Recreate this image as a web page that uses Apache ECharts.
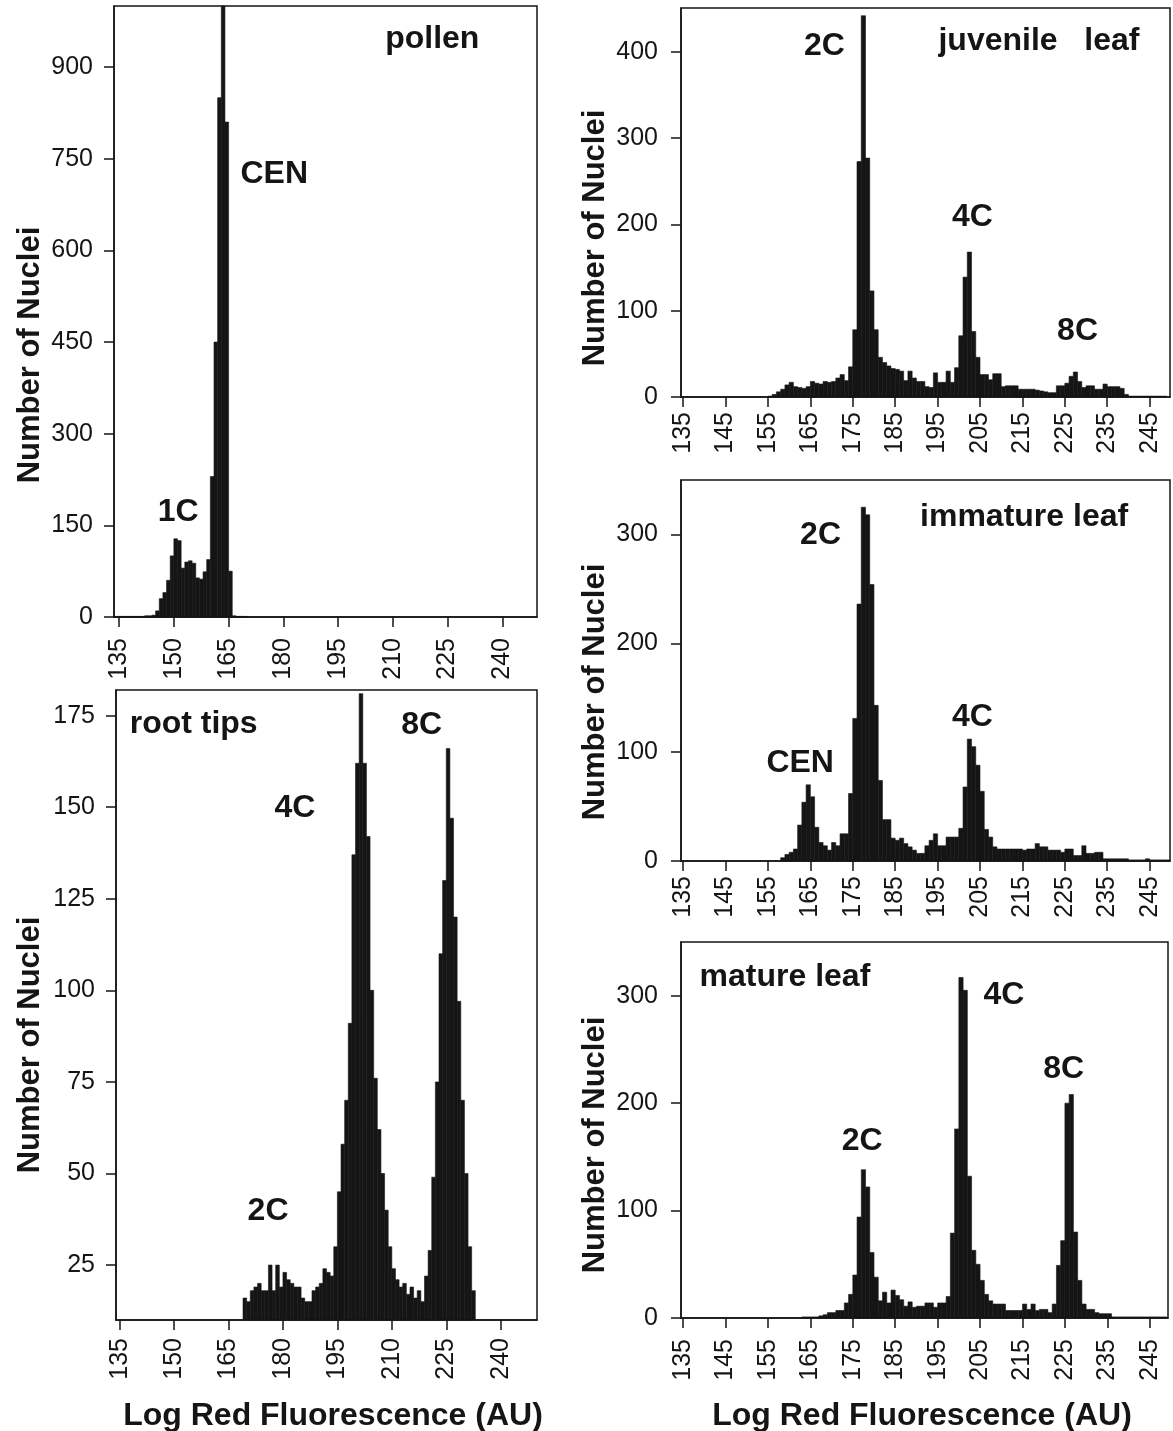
<!DOCTYPE html>
<html><head><meta charset="utf-8">
<script src="https://cdn.jsdelivr.net/npm/echarts@6/dist/echarts.min.js"></script>
<style>html,body{margin:0;padding:0;background:#fff}#c{width:1173px;height:1431px}</style>
</head><body><div id="c"></div><script>
// ---------- DATA ----------
// histogram bin starts (Log Red Fluorescence, AU); each bin is one unit wide
const BIN_WIDTH = 1;
const bins = [
  134,135,136,137,138,139,140,141,142,143,
  144,145,146,147,148,149,150,151,152,153,
  154,155,156,157,158,159,160,161,162,163,
  164,165,166,167,168,169,170,171,172,173,
  174,175,176,177,178,179,180,181,182,183,
  184,185,186,187,188,189,190,191,192,193,
  194,195,196,197,198,199,200,201,202,203,
  204,205,206,207,208,209,210,211,212,213,
  214,215,216,217,218,219,220,221,222,223,
  224,225,226,227,228,229,230,231,232,233,
  234,235,236,237,238,239,240,241,242,243,
  244,245,246,247,248,249
];
// Number of nuclei per bin
const pollenCounts = [
  1,1,1,1,1,1,1,1,2,2,
  3,10,30,40,60,100,128,125,80,90,
  92,88,64,62,74,94,230,450,850,1000,
  810,75,2,1,1,1,0,0,0,0,
  0,0,0,0,0,0,0,0,0,0,
  0,0,0,0,0,0,0,0,0,0,
  0,0,0,0,0,0,0,0,0,0,
  0,0,0,0,0,0,0,0,0,0,
  0,0,0,0,0,0,0,0,0,0,
  0,0,0,0,0,0,0,0,0,0,
  0,0,0,0,0,0,0,0,0,0,
  0,0,0,0,0,0
];
const rootCounts = [
  0,0,0,0,0,0,0,0,0,0,
  0,0,0,0,0,0,0,0,0,0,
  0,0,0,0,0,0,0,0,0,0,
  0,0,0,0,0,16,15,18,19,20,
  18,18,25,18,25,19,23,21,20,19,
  19,16,15,15,18,19,20,24,23,22,
  30,45,58,70,91,137,162,181,162,142,
  100,76,62,50,40,30,24,21,19,20,
  17,19,16,18,15,22,29,49,75,110,
  130,166,147,120,97,70,50,30,18,0,
  0,0,0,0,0,0,0,0,0,0,
  0,0,0,0,0,0
];
const juvenileCounts = [
  0,0,0,0,0,0,0,0,0,0,
  0,0,0,0,0,0,0,0,0,0,
  0,1,3,6,9,14,17,12,11,10,
  12,18,16,15,18,17,18,22,26,19,
  35,78,273,442,277,123,78,46,40,36,
  33,32,30,19,30,22,18,18,12,11,
  28,17,17,30,17,34,71,139,168,76,
  46,26,26,20,27,27,12,13,13,13,
  9,9,9,9,8,7,6,5,5,13,
  13,16,24,29,18,11,13,13,9,9,
  15,12,12,12,10,3,1,1,1,1,
  1,1,1,1,1,0
];
const immatureCounts = [
  0,0,0,0,0,0,0,0,0,0,
  0,0,0,0,0,0,0,0,0,0,
  0,0,0,0,3,6,8,11,33,54,
  70,59,31,17,14,10,17,14,25,25,
  62,131,236,325,318,254,143,74,38,38,
  21,19,21,16,13,10,7,7,14,19,
  25,14,14,22,22,22,30,68,112,105,
  88,64,29,22,13,11,11,11,11,11,
  11,10,11,11,16,13,13,10,10,10,
  8,11,11,5,5,14,7,7,8,8,
  2,2,2,2,2,2,1,1,1,1,
  2,1,1,1,1,1
];
const matureCounts = [
  0,0,0,0,0,0,0,0,0,0,
  0,0,0,0,0,0,0,0,0,0,
  0,0,0,0,0,0,0,0,0,1,
  1,1,1,2,3,5,5,7,7,14,
  22,40,94,138,122,61,38,16,24,14,
  26,21,17,11,15,10,11,11,14,14,
  10,14,14,20,79,176,317,305,132,63,
  50,35,22,16,13,13,13,7,7,7,
  7,13,8,13,7,8,8,5,13,49,
  72,200,208,80,35,13,8,8,5,4,
  4,4,1,1,1,1,1,1,1,1,
  1,1,1,1,1,0
];
// tick labels
const leftXTicks = [135,150,165,180,195,210,225,240];
const rightXTicks = [135,145,155,165,175,185,195,205,215,225,235,245];
const pollenYTicks = [0,150,300,450,600,750,900];
const rootYTicks = [25,50,75,100,125,150,175];
const juvenileYTicks = [0,100,200,300,400];
const leafYTicks = [0,100,200,300];
// panel annotations [x (AU), y (nuclei), text]
const pollenNotes = [[220.8,946,'pollen'],[177.5,724,'CEN'],[151.2,171,'1C']];
const rootNotes = [[155.4,172.8,'root tips'],[183.3,149.7,'4C'],[218.2,172.4,'8C'],[175.9,39.6,'2C']];
const juvenileNotes = [[168.3,407,'2C'],[218.9,412,'juvenile   leaf'],[203.2,208.6,'4C'],[228.0,75.9,'8C']];
const immatureNotes = [[167.4,299.5,'2C'],[215.4,316,'immature leaf'],[162.6,89.7,'CEN'],[203.2,132,'4C']];
const matureNotes = [[159.0,316.9,'mature leaf'],[210.6,300.5,'4C'],[177.2,165,'2C'],[224.7,231.6,'8C']];
const yTitle = 'Number of Nuclei';
const xTitle = 'Log Red Fluorescence (AU)';

// ---------- STYLE / LAYOUT ----------
const INK = '#151515';
const FONT = "'Liberation Sans', Arial, Helvetica, sans-serif";
const panels = [
  {grid:{left:114,top:6,width:423,height:611}, x:[133.6,249.5], xt:leftXTicks, y:[0,1000], yt:pollenYTicks, counts:pollenCounts, notes:pollenNotes, xm:21, ym:21},
  {grid:{left:116,top:690,width:421,height:630}, x:[134,250], xt:leftXTicks, y:[10,182], yt:rootYTicks, counts:rootCounts, notes:rootNotes, xm:18, ym:21},
  {grid:{left:681,top:8,width:489,height:389}, x:[134.5,249.8], xt:rightXTicks, y:[0,451], yt:juvenileYTicks, counts:juvenileCounts, notes:juvenileNotes, xm:15, ym:23},
  {grid:{left:681,top:480,width:489,height:381}, x:[134.5,249.8], xt:rightXTicks, y:[0,350], yt:leafYTicks, counts:immatureCounts, notes:immatureNotes, xm:15, ym:23},
  {grid:{left:681,top:942,width:487,height:376}, x:[134.5,249.3], xt:rightXTicks, y:[0,350], yt:leafYTicks, counts:matureCounts, notes:matureNotes, xm:21, ym:23}
];

function histRender(yFloor) {
  return function (params, api) {
    const x0 = api.value(0), y = api.value(1);
    if (y <= yFloor) return;
    const a = api.coord([x0, yFloor]);
    const b = api.coord([x0 + BIN_WIDTH, y]);
    const cs = params.coordSys;
    const r = echarts.graphic.clipRectByRect(
      {x: a[0], y: b[1], width: b[0] - a[0], height: a[1] - b[1]},
      {x: cs.x, y: cs.y, width: cs.width, height: cs.height});
    if (!r) return;
    return {type: 'rect', shape: r, style: {fill: INK, stroke: INK, lineWidth: 0.6}};
  };
}

const option = {
  animation: false,
  backgroundColor: '#fff',
  textStyle: {fontFamily: FONT, color: INK},
  grid: [], xAxis: [], yAxis: [], series: [],
  graphic: []
};

panels.forEach((p, i) => {
  option.grid.push(Object.assign({show: true, borderColor: INK, borderWidth: 1.5, backgroundColor: 'transparent'}, p.grid));
  option.xAxis.push({
    type: 'value', gridIndex: i, min: p.x[0], max: p.x[1],
    axisLine: {show: true, onZero: false, lineStyle: {color: INK, width: 1.5}},
    axisTick: {show: true, length: 10, lineStyle: {color: INK, width: 1.5}, customValues: p.xt},
    axisLabel: {show: true, rotate: 90, margin: p.xm, fontSize: 25, color: INK, fontFamily: FONT, customValues: p.xt},
    splitLine: {show: false}
  });
  option.yAxis.push({
    type: 'value', gridIndex: i, min: p.y[0], max: p.y[1],
    axisLine: {show: true, onZero: false, lineStyle: {color: INK, width: 1.5}},
    axisTick: {show: true, length: 10, lineStyle: {color: INK, width: 1.5}, customValues: p.yt},
    axisLabel: {show: true, margin: p.ym, fontSize: 25, color: INK, fontFamily: FONT, customValues: p.yt},
    splitLine: {show: false}
  });
  option.series.push({
    type: 'custom', xAxisIndex: i, yAxisIndex: i,
    renderItem: histRender(p.y[0]),
    encode: {x: 0, y: 1},
    data: bins.map((b, k) => [b, p.counts[k]]),
    silent: true
  });
});

// axis titles
[[30,355],[30,1045],[595,238],[595,692],[595,1145]].forEach(c => {
  option.graphic.push({type: 'text', x: c[0], y: c[1], rotation: Math.PI / 2,
    style: {text: yTitle, fontSize: 31, fontWeight: 'bold', fill: INK, fontFamily: FONT,
      align: 'center', verticalAlign: 'middle'}});
});
[[333,1416],[922,1416]].forEach(c => {
  option.graphic.push({type: 'text', x: c[0], y: c[1],
    style: {text: xTitle, fontSize: 32, fontWeight: 'bold', fill: INK, fontFamily: FONT,
      align: 'center', verticalAlign: 'middle'}});
});

const chart = echarts.init(document.getElementById('c'), null, {renderer: 'canvas'});
chart.setOption(option);

// annotations placed through each panel's own scales
const noteGraphics = [];
panels.forEach((p, i) => {
  p.notes.forEach(n => {
    const pt = chart.convertToPixel({gridIndex: i}, [n[0], n[1]]);
    noteGraphics.push({type: 'text', x: pt[0], y: pt[1],
      style: {text: n[2], fontSize: 32, fontWeight: 'bold', fill: INK, fontFamily: FONT,
        align: 'center', verticalAlign: 'middle'}});
  });
});
chart.setOption({graphic: option.graphic.concat(noteGraphics)});
</script></body></html>
